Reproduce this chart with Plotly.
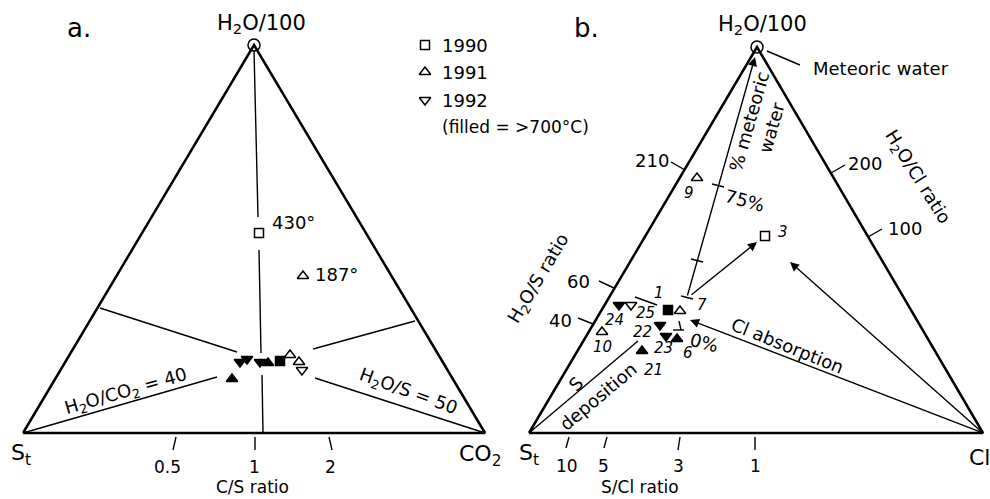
import plotly.graph_objects as go

# ---------------- diagram coordinates (x right, y down) ----------------
# Panel a triangle vertices: St, H2O/100, CO2
A_TRI_X = [23, 254, 485, 23]
A_TRI_Y = [433, 45, 433, 433]
# Panel b triangle vertices: St, H2O/100, Cl
B_TRI_X = [529, 757, 983, 529]
B_TRI_Y = [433, 47, 433, 433]

# thin line segments (x0, y0, x1, y1)
A_SEG_X0 = [254, 259, 262, 23, 313, 485, 237, 176, 255, 329]
A_SEG_Y0 = [50, 250, 375, 433, 349, 433, 352, 437, 437, 437]
A_SEG_X1 = [258, 261, 263, 217, 415, 315, 100, 173, 255, 332]
A_SEG_Y1 = [217, 353, 433, 377, 321, 378, 308, 450, 450, 450]

B_SEG_X0 = [685, 614, 593, 831, 868, 529, 635, 767, 569, 607, 680, 755,
            681, 673, 681, 691, 712]
B_SEG_Y0 = [170, 288, 324, 173, 237, 433, 297, 51, 437, 437, 437, 437,
            296, 330, 330, 259, 184]
B_SEG_X1 = [671, 599, 578, 845, 882, 638, 657, 800, 566, 604, 678, 755,
            693, 684, 679, 703, 724]
B_SEG_Y1 = [162, 281, 318, 165, 229, 341, 305, 65, 448, 448, 450, 450,
            299, 330, 321, 262, 187]

# arrows (tail -> head)
ARR_X0 = [687, 690, 983, 983]
ARR_Y0 = [297, 296, 433, 433]
ARR_X1 = [755, 757, 690, 790]
ARR_Y1 = [57, 242, 320, 262]

# data points, panel a
A_PT_X = [259, 303, 240, 247, 260, 268, 280, 290, 299, 302, 232]
A_PT_Y = [233, 276, 362, 359, 362, 363, 361, 355, 362, 370, 379]
A_PT_SYM = ["square-open", "triangle-up-open", "triangle-down", "triangle-down",
            "triangle-down", "triangle-up", "square", "triangle-up-open",
            "triangle-up-open", "triangle-down-open", "triangle-up"]

# data points, panel b (sample numbers)
B_PT_ID = ["3", "9", "1", "7", "24", "25", "10", "22", "23", "6", "21"]
B_PT_X = [765, 697, 668, 680, 619, 631, 602, 660, 666, 677, 642]
B_PT_Y = [236, 178, 310, 311, 305, 305, 332, 325, 336, 339, 351]
B_PT_SYM = ["square-open", "triangle-up-open", "square", "triangle-up-open",
            "triangle-down", "triangle-down-open", "triangle-up-open",
            "triangle-down", "triangle-down", "triangle-up", "triangle-up"]
B_LBL_X = [783, 689, 659, 702, 614, 645, 602, 642, 663, 688, 653]
B_LBL_Y = [232, 193, 293, 305, 320, 313, 347, 332, 348, 353, 370]

# apex circles
APEX_X = [254, 757]
APEX_Y = [45, 47]

# legend
LEG_SYM = ["square-open", "triangle-up-open", "triangle-down-open"]
LEG_TXT = ["1990", "1991", "1992"]
LEG_Y = [45, 72, 100]

# text labels: text, x, y, angle, size
LABELS = [
    ("a.", 79, 28, 0, 26),
    ("H<sub>2</sub>O/100", 261, 24, 0, 21),
    ("430°", 293, 222, 0, 18),
    ("187°", 336, 274, 0, 18),
    ("H<sub>2</sub>O/CO<sub>2</sub> = 40", 126, 392, -16, 18),
    ("H<sub>2</sub>O/S = 50", 408, 392, 20, 18),
    ("S<sub>t</sub>", 21, 454, 0, 22),
    ("CO<sub>2</sub>", 480, 455, 0, 22),
    ("0.5", 167, 467, 0, 17),
    ("1", 254, 467, 0, 17),
    ("2", 330, 467, 0, 17),
    ("C/S ratio", 252, 487, 0, 17),
    ("b.", 586, 28, 0, 26),
    ("H<sub>2</sub>O/100", 762, 25, 0, 21),
    ("Meteoric water", 881, 68, 0, 18),
    ("210", 652, 160, 0, 18),
    ("60", 578, 281, 0, 18),
    ("40", 560, 320, 0, 18),
    ("H<sub>2</sub>O/S ratio", 539, 279, -59, 18),
    ("200", 865, 163, 0, 18),
    ("100", 905, 228, 0, 18),
    ("H<sub>2</sub>O/Cl ratio", 917, 177, 58, 18),
    ("% meteoric<br>water", 760, 125, -74, 18),
    ("75%", 745, 200, 15, 18),
    ("0%", 704, 342, 15, 18),
    ("Cl absorption", 787, 345, 22, 18),
    ("S", 575, 384, -45, 18),
    ("deposition", 598, 396, -40, 18),
    ("S<sub>t</sub>", 529, 454, 0, 22),
    ("Cl", 979, 457, 0, 22),
    ("10", 567, 466, 0, 17),
    ("5", 603, 466, 0, 17),
    ("3", 678, 466, 0, 17),
    ("1", 755, 466, 0, 17),
    ("S/Cl ratio", 640, 487, 0, 17),
]

FONT = "DejaVu Sans"


def segs(x0, y0, x1, y1):
    xs, ys = [], []
    for a, b, c, d in zip(x0, y0, x1, y1):
        xs += [a, c, None]
        ys += [b, d, None]
    return xs, ys


fig = go.Figure()

for tx, ty in [(A_TRI_X, A_TRI_Y), (B_TRI_X, B_TRI_Y)]:
    fig.add_trace(go.Scatter(x=tx, y=ty, mode="lines",
                             line=dict(color="black", width=2.5),
                             hoverinfo="skip"))

for sx in [(A_SEG_X0, A_SEG_Y0, A_SEG_X1, A_SEG_Y1),
           (B_SEG_X0, B_SEG_Y0, B_SEG_X1, B_SEG_Y1)]:
    xs, ys = segs(*sx)
    fig.add_trace(go.Scatter(x=xs, y=ys, mode="lines",
                             line=dict(color="black", width=1.4),
                             hoverinfo="skip"))

fig.add_trace(go.Scatter(x=APEX_X, y=APEX_Y, mode="markers",
                         marker=dict(symbol="circle-open", size=12,
                                     color="black", line=dict(width=1.5))))


def add_points(xs, ys, syms):
    sizes = [9 if s.startswith("square") else 10 for s in syms]
    fig.add_trace(go.Scatter(
        x=xs, y=ys, mode="markers",
        marker=dict(symbol=syms, size=sizes, color="black", opacity=1,
                    line=dict(color="black", width=1.5))))


add_points(A_PT_X, A_PT_Y, A_PT_SYM)
add_points(B_PT_X, B_PT_Y, B_PT_SYM)
add_points([425] * 3, LEG_Y, LEG_SYM)

ann = []
for t, x, y in zip(LEG_TXT, [440] * 3, LEG_Y):
    ann.append(dict(text=t, x=x, y=y, xanchor="left", yanchor="middle",
                    showarrow=False, font=dict(size=18, family=FONT, color="black")))
ann.append(dict(text="(filled = >700°C)", x=440, y=127, xanchor="left",
                yanchor="middle", showarrow=False,
                font=dict(size=17, family=FONT, color="black")))

for t, x, y, ang, sz in LABELS:
    ann.append(dict(text=t, x=x, y=y, textangle=ang, showarrow=False,
                    xanchor="center", yanchor="middle",
                    font=dict(size=sz, family=FONT, color="black")))

for t, x, y in zip(B_PT_ID, B_LBL_X, B_LBL_Y):
    ann.append(dict(text="<i>" + t + "</i>", x=x, y=y, showarrow=False,
                    font=dict(size=15, family=FONT, color="black")))

for x0, y0, x1, y1 in zip(ARR_X0, ARR_Y0, ARR_X1, ARR_Y1):
    ann.append(dict(text="", x=x1, y=y1, ax=x0, ay=y0, axref="x", ayref="y",
                    xref="x", yref="y", showarrow=True, arrowhead=2,
                    arrowsize=1.3, arrowwidth=1.4, arrowcolor="black",
                    standoff=0, startstandoff=0))

for a in ann:
    a.setdefault("xref", "x")
    a.setdefault("yref", "y")

fig.update_layout(
    width=990, height=499,
    margin=dict(l=0, r=0, t=0, b=0),
    paper_bgcolor="white", plot_bgcolor="white",
    showlegend=False,
    xaxis=dict(range=[0, 990], visible=False, fixedrange=True),
    yaxis=dict(range=[499, 0], visible=False, fixedrange=True),
    annotations=ann,
)

fig.write_html("out.html")
